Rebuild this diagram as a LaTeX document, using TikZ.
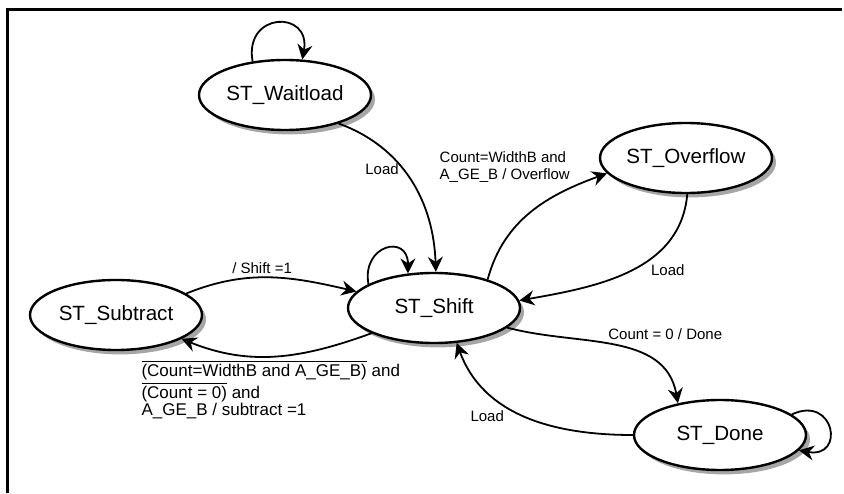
\documentclass[tikz,border=0pt]{standalone}
\usepackage{fontspec}
\setmainfont{Liberation Sans}
\usepackage{tikz}
\usetikzlibrary{arrows.meta,shapes.geometric,shadows}
\tikzset{
  state/.style={ellipse, draw, line width=1.2pt, fill=white, minimum width=86pt, minimum height=35pt, inner sep=0pt,
    font=\fontsize{10.3}{12}\selectfont,
    drop shadow={shadow xshift=2pt, shadow yshift=-2.2pt, fill=gray!70, opacity=1}},
  arr/.style={-{Stealth[length=7.5pt,width=7.5pt,inset=2.5pt]}, line width=0.9pt},
  lbl/.style={font=\fontsize{7.5}{8.5}\selectfont, inner sep=1.5pt},
  frame/.style={line width=1.5pt},
}

\begin{document}
\begin{tikzpicture}[x=0.5pt,y=0.5pt]
  \useasboundingbox (0,0) rectangle (844,493);
  \draw[frame] (7,0) |- (842,483);
  % states
  \node[state] (wait)  at (285,398) {ST\_Waitload};
  \node[state] (over)  at (686,335) {ST\_Overflow};
  \node[state] (sub)   at (116,178) {ST\_Subtract};
  \node[state] (shift) at (434,185) {ST\_Shift};
  \node[state] (done)  at (720,58)  {ST\_Done};
  % transitions
  \draw[arr] (wait.134) to[out=100,in=80,looseness=2.6] (wait.64);
  \draw[arr] (wait.-28) to[out=-20,in=92] node[lbl,pos=0.42,left] (lLoadW) {Load} (shift.87);
  \draw[arr] (shift.160) to[out=100,in=90,looseness=2.5] (shift.127);
  \draw[arr] (sub.17) to[out=22,in=167] node[lbl,pos=0.45,above] (lShift) {/ Shift =1} (shift.168);
  \draw[arr] (shift.202) to[out=200,in=-22] node[lbl,pos=0.53,below,align=left,font=\fontsize{8.5}{8.8}\selectfont] (lSub)
    {$\overline{\mbox{(Count=WidthB and A\_GE\_B)}}$ and\\
     $\overline{\mbox{(Count = 0)}}$ and\\
     A\_GE\_B / subtract =1} (sub.-20);
  \draw[arr] (shift.28) to[out=75,in=200] node[lbl,pos=0.8,above left,align=left] (lOver)
    {Count=WidthB and\\A\_GE\_B / Overflow} (over.191);
  \draw[arr] (over.-88) to[out=-95,in=10] node[lbl,pos=0.4,below right] (lLoadO) {Load} (shift.5);
  \draw[arr] (shift.-15) to[out=-15,in=100] node[lbl,pos=0.45,above right=0pt] (lDone) {Count = 0 / Done} (done.143);
  \draw[arr] (done.180) to[out=180,in=-70] node[lbl,pos=0.6,below left] (lLoadD) {Load} (shift.-57);
  \draw[arr] (done.16) to[out=25,in=-10,looseness=3.3] (done.-11);
\end{tikzpicture}
\end{document}
